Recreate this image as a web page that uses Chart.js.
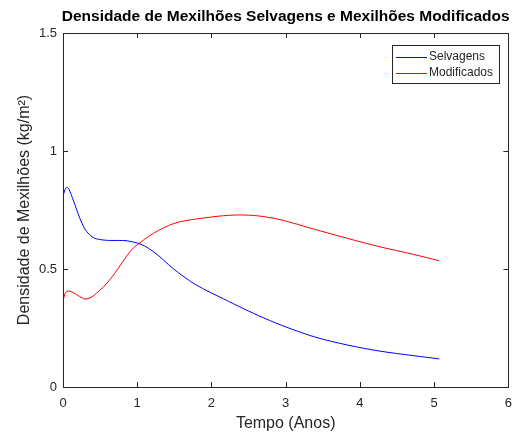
<!DOCTYPE html>
<html>
<head>
<meta charset="utf-8">
<script src="https://cdn.jsdelivr.net/npm/chart.js@4.4.0/dist/chart.umd.min.js"></script>
<style>
  body { margin: 0; background: #fff; }
  canvas { display: block; }
</style>
</head>
<body>
<canvas id="myChart" width="521" height="432"></canvas>
<script>
// tempo em anos
const tempo = [0, 0.025, 0.05, 0.08, 0.138, 0.227, 0.293, 0.35, 0.404, 0.449, 0.538, 0.627, 0.75, 0.85, 0.95, 1.05, 1.15, 1.29, 1.42, 1.56, 1.75, 1.92, 2.1, 2.36, 2.63, 2.94, 3.38, 3.83, 4.27, 4.72, 5.07];
const selvagens = [0.806, 0.835, 0.846, 0.838, 0.792, 0.715, 0.67, 0.648, 0.634, 0.628, 0.623, 0.621, 0.621, 0.62, 0.614, 0.605, 0.588, 0.556, 0.519, 0.483, 0.441, 0.411, 0.383, 0.343, 0.303, 0.262, 0.213, 0.178, 0.152, 0.133, 0.119];
const modificados = [0.36, 0.395, 0.405, 0.407, 0.40, 0.383, 0.373, 0.376, 0.385, 0.397, 0.422, 0.453, 0.505, 0.552, 0.59, 0.614, 0.638, 0.664, 0.684, 0.699, 0.71, 0.717, 0.724, 0.729, 0.725, 0.708, 0.669, 0.63, 0.594, 0.562, 0.535];
const xTicks = [0, 1, 2, 3, 4, 5, 6];
const yTicks = [0, 0.5, 1, 1.5];
const cores = ['#0000ff', '#ff0000'];

const titulo = 'Densidade de Mexilhões Selvagens e Mexilhões Modificados';
const xTitulo = 'Tempo (Anos)';
const yTitulo = 'Densidade de Mexilhões (kg/m²)';

const txt = '#262626';
const fam = '"Liberation Sans", Arial, sans-serif';

function pts(ys) {
    return tempo.map((t, i) => ({ x: t, y: ys[i] }));
}

const extras = {
    id: 'extras',
    afterDraw(chart) {
        const ctx = chart.ctx;
        const a = chart.chartArea;
        const xs = chart.scales.x, ys = chart.scales.y;
        ctx.save();
        // moldura
        ctx.strokeStyle = txt;
        ctx.lineWidth = 1;
        ctx.strokeRect(Math.round(a.left) + 0.5, Math.round(a.top) + 0.5, Math.round(a.right - a.left), Math.round(a.bottom - a.top));
        // ticks para dentro
        ctx.beginPath();
        xTicks.forEach(v => {
            const p = Math.round(xs.getPixelForValue(v)) + 0.5;
            ctx.moveTo(p, a.bottom); ctx.lineTo(p, a.bottom - 5);
            ctx.moveTo(p, a.top); ctx.lineTo(p, a.top + 5);
        });
        yTicks.forEach(v => {
            const p = Math.round(ys.getPixelForValue(v)) + 0.5;
            ctx.moveTo(a.left, p); ctx.lineTo(a.left + 5, p);
            ctx.moveTo(a.right, p); ctx.lineTo(a.right - 5, p);
        });
        ctx.stroke();

        // titulos
        ctx.fillStyle = '#000';
        ctx.font = 'bold 15.5px ' + fam;
        ctx.textAlign = 'center';
        ctx.textBaseline = 'middle';
        ctx.fillText(titulo, (a.left + a.right) / 2, 17);
        ctx.fillStyle = txt;
        ctx.font = '16px ' + fam;
        ctx.fillText(xTitulo, (a.left + a.right) / 2, 424);
        ctx.save();
        ctx.translate(25, (a.top + a.bottom) / 2);
        ctx.rotate(-Math.PI / 2);
        ctx.fillText(yTitulo, 0, 0);
        ctx.restore();

        // legenda
        const lx = 392, ly = 45, lw = 107, lh = 38;
        ctx.fillStyle = '#fff';
        ctx.fillRect(lx, ly, lw, lh);
        ctx.strokeStyle = txt;
        ctx.strokeRect(lx + 0.5, ly + 0.5, lw, lh);
        ctx.font = '12px ' + fam;
        ctx.textAlign = 'left';
        chart.data.datasets.forEach((d, i) => {
            const yy = ly + 12 + i * 16;
            ctx.fillStyle = cores[i];
            ctx.fillRect(lx + 4, yy, 31, 1);
            ctx.fillStyle = txt;
            ctx.fillText(d.label, lx + 37, yy);
        });
        ctx.restore();
    }
};

const ctx = document.getElementById('myChart').getContext('2d');
const myChart = new Chart(ctx, {
    type: 'line',
    data: {
        datasets: [{
            label: 'Selvagens',
            data: pts(selvagens),
            borderColor: cores[0],
            borderWidth: 1,
            pointRadius: 0,
            tension: 0.3,
            fill: false
        }, {
            label: 'Modificados',
            data: pts(modificados),
            borderColor: cores[1],
            borderWidth: 1,
            pointRadius: 0,
            tension: 0.3,
            fill: false
        }]
    },
    options: {
        responsive: false,
        animation: false,
        layout: { padding: { top: 33, right: 8, left: 0, bottom: 0 } },
        plugins: {
            legend: { display: false },
            title: { display: false },
            tooltip: { enabled: false }
        },
        scales: {
            x: {
                type: 'linear',
                min: 0,
                max: 6,
                afterFit: s => { s.height = 45; },
                afterBuildTicks: s => { s.ticks = xTicks.map(v => ({ value: v })); },
                grid: { display: false, drawTicks: false },
                border: { display: false },
                ticks: { color: txt, font: { size: 13, family: fam }, padding: 9, maxRotation: 0, callback: v => String(v) }
            },
            y: {
                min: 0,
                max: 1.5,
                afterFit: s => { s.width = 63; },
                afterBuildTicks: s => { s.ticks = yTicks.map(v => ({ value: v })); },
                grid: { display: false, drawTicks: false },
                border: { display: false },
                ticks: { color: txt, font: { size: 13, family: fam }, padding: 6, callback: v => String(v) }
            }
        }
    },
    plugins: [extras]
});
</script>
</body>
</html>
